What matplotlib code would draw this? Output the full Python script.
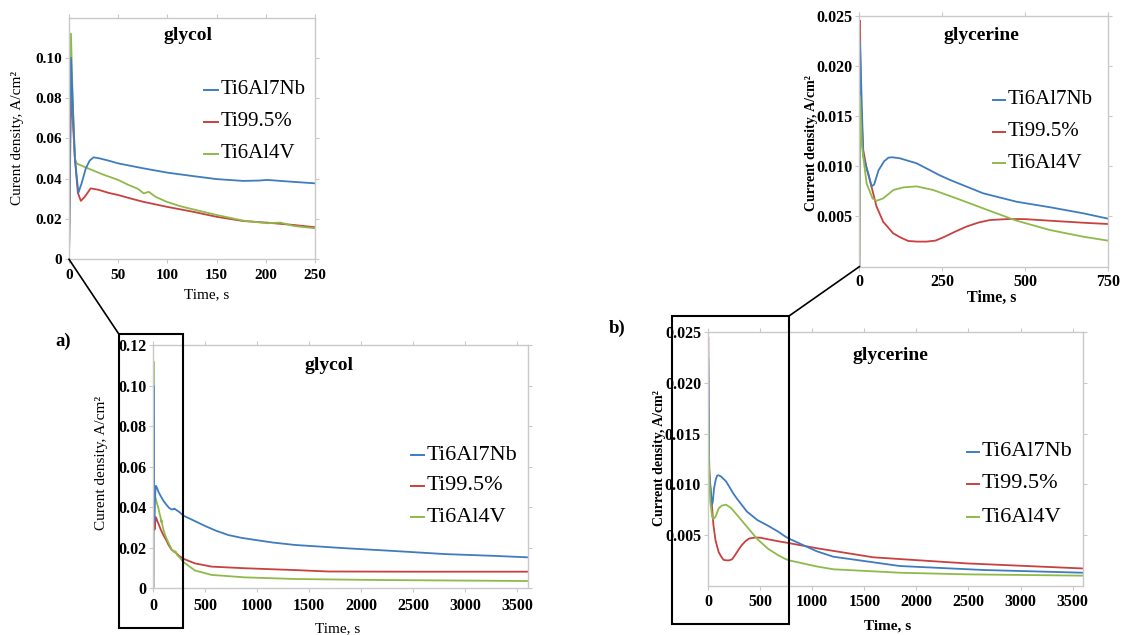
import matplotlib
matplotlib.use("Agg")
import matplotlib.pyplot as plt
from matplotlib.lines import Line2D
from matplotlib.patches import Rectangle

# ---------------- data ----------------
series_names = ["Ti6Al7Nb", "Ti99.5%", "Ti6Al4V"]
series_colors = ["#3f7cbf", "#c8413e", "#8fba4a"]

# glycol
gly_nb_t = [0, 2, 4, 6, 9.5, 13, 17, 21, 25, 30, 40, 50, 75, 100, 126, 150, 177, 194, 201, 229, 250,
            289, 400, 497, 600, 722, 850, 978, 1150, 1363, 1844, 2325, 2806, 3287, 3600]
gly_nb_v = [0, 0.100, 0.075, 0.050, 0.033, 0.038, 0.045, 0.049, 0.0506, 0.0502, 0.049, 0.0476, 0.0452,
            0.043, 0.0413, 0.0398, 0.0389, 0.0391, 0.0394, 0.0384, 0.0377,
            0.0359, 0.0332, 0.0308, 0.0285, 0.0263, 0.0249, 0.0239, 0.0226, 0.0214, 0.0198,
            0.0184, 0.0169, 0.0160, 0.0153]

gly_ti_t = [0, 2, 6, 9, 12, 16, 22, 30, 40, 50, 64, 75, 99, 126, 150, 177, 201, 229, 250,
            289, 401, 562, 882, 1363, 1684, 2500, 3600]
gly_ti_v = [0, 0.085, 0.050, 0.033, 0.029, 0.031, 0.0352, 0.0345, 0.033, 0.0319, 0.030, 0.0286,
            0.0261, 0.0236, 0.0211, 0.019, 0.0182, 0.017, 0.0159,
            0.0146, 0.0123, 0.0107, 0.0099, 0.0090, 0.0083, 0.0082, 0.0082]

gly_v4_t = [0, 2, 4, 6, 8, 15, 25, 35, 50, 60, 70, 76, 81, 88, 99, 112, 126, 150, 177, 201, 215,
            229, 250, 289, 401, 562, 882, 1363, 2165, 3600]
gly_v4_v = [0, 0.112, 0.075, 0.050, 0.0475, 0.046, 0.044, 0.042, 0.0394, 0.037, 0.035, 0.0327,
            0.0335, 0.031, 0.0286, 0.0265, 0.0248, 0.022, 0.0192, 0.0179, 0.0182,
            0.0165, 0.0154, 0.0130, 0.0088, 0.0066, 0.0054, 0.0046, 0.0041, 0.0036]

# glycerine
gle_nb_t = [0, 2, 12, 27, 37, 45, 58, 75, 88, 99, 122, 173, 243, 274, 374, 475, 576, 676, 746,
            787, 1043, 1203, 1843, 2643, 3600]
gle_nb_v = [0, 0.0224, 0.011, 0.0093, 0.0080, 0.0082, 0.0096, 0.0105, 0.01086, 0.0109, 0.0108,
            0.0103, 0.0091, 0.00864, 0.00731, 0.00647, 0.00592, 0.00532, 0.00482,
            0.0046, 0.0034, 0.00286, 0.00194, 0.00155, 0.00128]

gle_ti_t = [0, 2, 5, 12, 22, 32, 52, 72, 102, 125, 148, 175, 203, 230, 254, 290, 324, 360, 395,
            450, 500, 576, 676, 746, 1043, 1587, 2483, 3600]
gle_ti_v = [0, 0.0245, 0.016, 0.0116, 0.0098, 0.0086, 0.006, 0.00448, 0.00333, 0.0029, 0.00256,
            0.0025, 0.0025, 0.0026, 0.00293, 0.0035, 0.0040, 0.0044, 0.00465,
            0.00475, 0.00474, 0.00458, 0.00438, 0.00426, 0.0037, 0.0028, 0.0022, 0.0017]

gle_v4_t = [0, 2, 8, 22, 40, 52, 72, 103, 133, 173, 223, 294, 374, 475, 576, 676, 746,
            787, 1043, 1203, 1843, 2483, 3600]
gle_v4_v = [0, 0.017, 0.012, 0.0083, 0.0068, 0.00657, 0.0068, 0.00764, 0.0079, 0.0080, 0.00764,
            0.0068, 0.00581, 0.00458, 0.00365, 0.00299, 0.00262,
            0.00248, 0.0019, 0.00162, 0.00128, 0.00112, 0.00099]

# ticks
gly_inset_xticks = [0, 50, 100, 150, 200, 250]
gly_inset_yticks = [0, 0.02, 0.04, 0.06, 0.08, 0.10]
gly_inset_ylabels = ["0", "0.02", "0.04", "0.06", "0.08", "0.10"]
gle_inset_xticks = [0, 250, 500, 750]
gle_yticks = [0.005, 0.010, 0.015, 0.020, 0.025]
gle_ylabels = ["0.005", "0.010", "0.015", "0.020", "0.025"]
full_xticks = [0, 500, 1000, 1500, 2000, 2500, 3000, 3500]
gly_main_yticks = [0, 0.02, 0.04, 0.06, 0.08, 0.10, 0.12]
gly_main_ylabels = ["0", "0.02", "0.04", "0.06", "0.08", "0.10", "0.12"]

# ---------------- figure ----------------
W, H = 1126, 635
plt.rcParams['font.family'] = ['Liberation Serif', 'DejaVu Serif']
fig = plt.figure(figsize=(W / 100, H / 100), dpi=100)
fig.patch.set_facecolor("white")

FRAME = "#c9c9c9"


def ax_px(x0, x1, ytop, ybot):
    return fig.add_axes([x0 / W, 1 - ybot / H, (x1 - x0) / W, (ybot - ytop) / H])


def ftxt(x, y, s, **kw):
    return fig.text(x / W, 1 - y / H, s, **kw)


def style(ax, tick_fs=11.5, xpad=4):
    for sp in ax.spines.values():
        sp.set_color(FRAME)
        sp.set_linewidth(1.0)
    ax.tick_params(direction="out", length=3, width=0.8, color=FRAME,
                   top=True, right=True, labelsize=tick_fs, pad=2)
    ax.tick_params(axis="x", pad=xpad)
    for lab in ax.get_xticklabels() + ax.get_yticklabels():
        lab.set_fontweight("bold")


def legend(x_dash, y_rows, fs, dash_len):
    for name, col, y in zip(series_names, series_colors, y_rows):
        fig.add_artist(Line2D([x_dash / W, (x_dash + dash_len) / W], [1 - y / H, 1 - y / H],
                              color=col, lw=1.4, transform=fig.transFigure))
        ftxt(x_dash + dash_len + 3, y, name, fontsize=fs, va="center", ha="left")


gly = [(gly_nb_t, gly_nb_v), (gly_ti_t, gly_ti_v), (gly_v4_t, gly_v4_v)]
gle = [(gle_nb_t, gle_nb_v), (gle_ti_t, gle_ti_v), (gle_v4_t, gle_v4_v)]
gly_order = [1, 2, 0]
gle_order = [1, 0, 2]


def draw(ax, data, order):
    for i in order:
        t, v = data[i]
        ax.plot(t, v, color=series_colors[i], lw=1.3, solid_joinstyle="round")


# ---- inset glycol (top-left)
ax1 = ax_px(69, 315, 17.5, 259.3)
draw(ax1, gly, gly_order)
ax1.set_xlim(0, 250)
ax1.set_ylim(0, 0.12)
ax1.set_xticks(gly_inset_xticks)
ax1.set_yticks(gly_inset_yticks)
ax1.set_yticklabels(gly_inset_ylabels)
style(ax1, 11, xpad=4)
ftxt(188, 35, "glycol", fontsize=14, fontweight="bold", ha="center", va="center")
ftxt(18, 138, "Curent density, A/cm²", fontsize=11, rotation=90, ha="center", va="center")
ftxt(207, 295, "Time, s", fontsize=11, ha="center", va="center")
legend(204, [90, 122, 154], 15, 14)

# ---- inset glycerine (top-right)
ax2 = ax_px(859.3, 1107.7, 15.7, 266.7)
draw(ax2, gle, gle_order)
ax2.set_xlim(0, 750)
ax2.set_ylim(0, 0.025)
ax2.set_xticks(gle_inset_xticks)
ax2.set_yticks(gle_yticks)
ax2.set_yticklabels(gle_ylabels)
style(ax2, 11.5, xpad=2)
ftxt(981, 35, "glycerine", fontsize=14, fontweight="bold", ha="center", va="center")
ftxt(812, 143, "Current density, A/cm²", fontsize=10, fontweight="bold", rotation=90,
     ha="center", va="center")
ftxt(992, 298, "Time, s", fontsize=11.5, fontweight="bold", ha="center", va="center")
legend(993, [100, 132, 163], 15, 12)

# ---- main glycol (a)
ax3 = ax_px(153.3, 527.5, 345.3, 588.3)
draw(ax3, gly, gly_order)
ax3.set_xlim(0, 3600)
ax3.set_ylim(0, 0.12)
ax3.set_xticks(full_xticks)
ax3.set_yticks(gly_main_yticks)
ax3.set_yticklabels(gly_main_ylabels)
style(ax3, 11.5, xpad=4)
ftxt(329, 365, "glycol", fontsize=14, fontweight="bold", ha="center", va="center")
ftxt(101, 463, "Curent density, A/cm²", fontsize=11, rotation=90, ha="center", va="center")
ftxt(338, 629, "Time, s", fontsize=11, ha="center", va="center")
legend(411, [455, 486, 517], 16, 13)
ftxt(63, 341, "a)", fontsize=13.5, fontweight="bold", ha="center", va="center")

# ---- main glycerine (b)
ax4 = ax_px(708, 1083, 332.3, 585.7)
draw(ax4, gle, gle_order)
ax4.set_xlim(0, 3600)
ax4.set_ylim(0, 0.025)
ax4.set_xticks(full_xticks)
ax4.set_yticks(gle_yticks)
ax4.set_yticklabels(gle_ylabels)
style(ax4, 11.5, xpad=3)
ftxt(890, 355, "glycerine", fontsize=14, fontweight="bold", ha="center", va="center")
ftxt(659, 458, "Current density, A/cm²", fontsize=10, fontweight="bold", rotation=90,
     ha="center", va="center")
ftxt(888, 626, "Time, s", fontsize=11, fontweight="bold", ha="center", va="center")
legend(967, [452, 484, 517], 16, 12)
ftxt(617, 328, "b)", fontsize=13.5, fontweight="bold", ha="center", va="center")

# ---- zoom boxes and connectors
for (x0, y0, x1, y1) in [(119, 334.3, 183.3, 628.3), (671.5, 316, 789, 624)]:
    fig.add_artist(Rectangle((x0 / W, 1 - y1 / H), (x1 - x0) / W, (y1 - y0) / H,
                             fill=False, ec="black", lw=1.5, transform=fig.transFigure))
fig.add_artist(Line2D([69 / W, 119 / W], [1 - 259.3 / H, 1 - 334.3 / H],
                      color="black", lw=1.2, transform=fig.transFigure))
fig.add_artist(Line2D([789 / W, 859.3 / W], [1 - 316 / H, 1 - 266.7 / H],
                      color="black", lw=1.2, transform=fig.transFigure))

fig.savefig("out.png", dpi=100, facecolor="white")
